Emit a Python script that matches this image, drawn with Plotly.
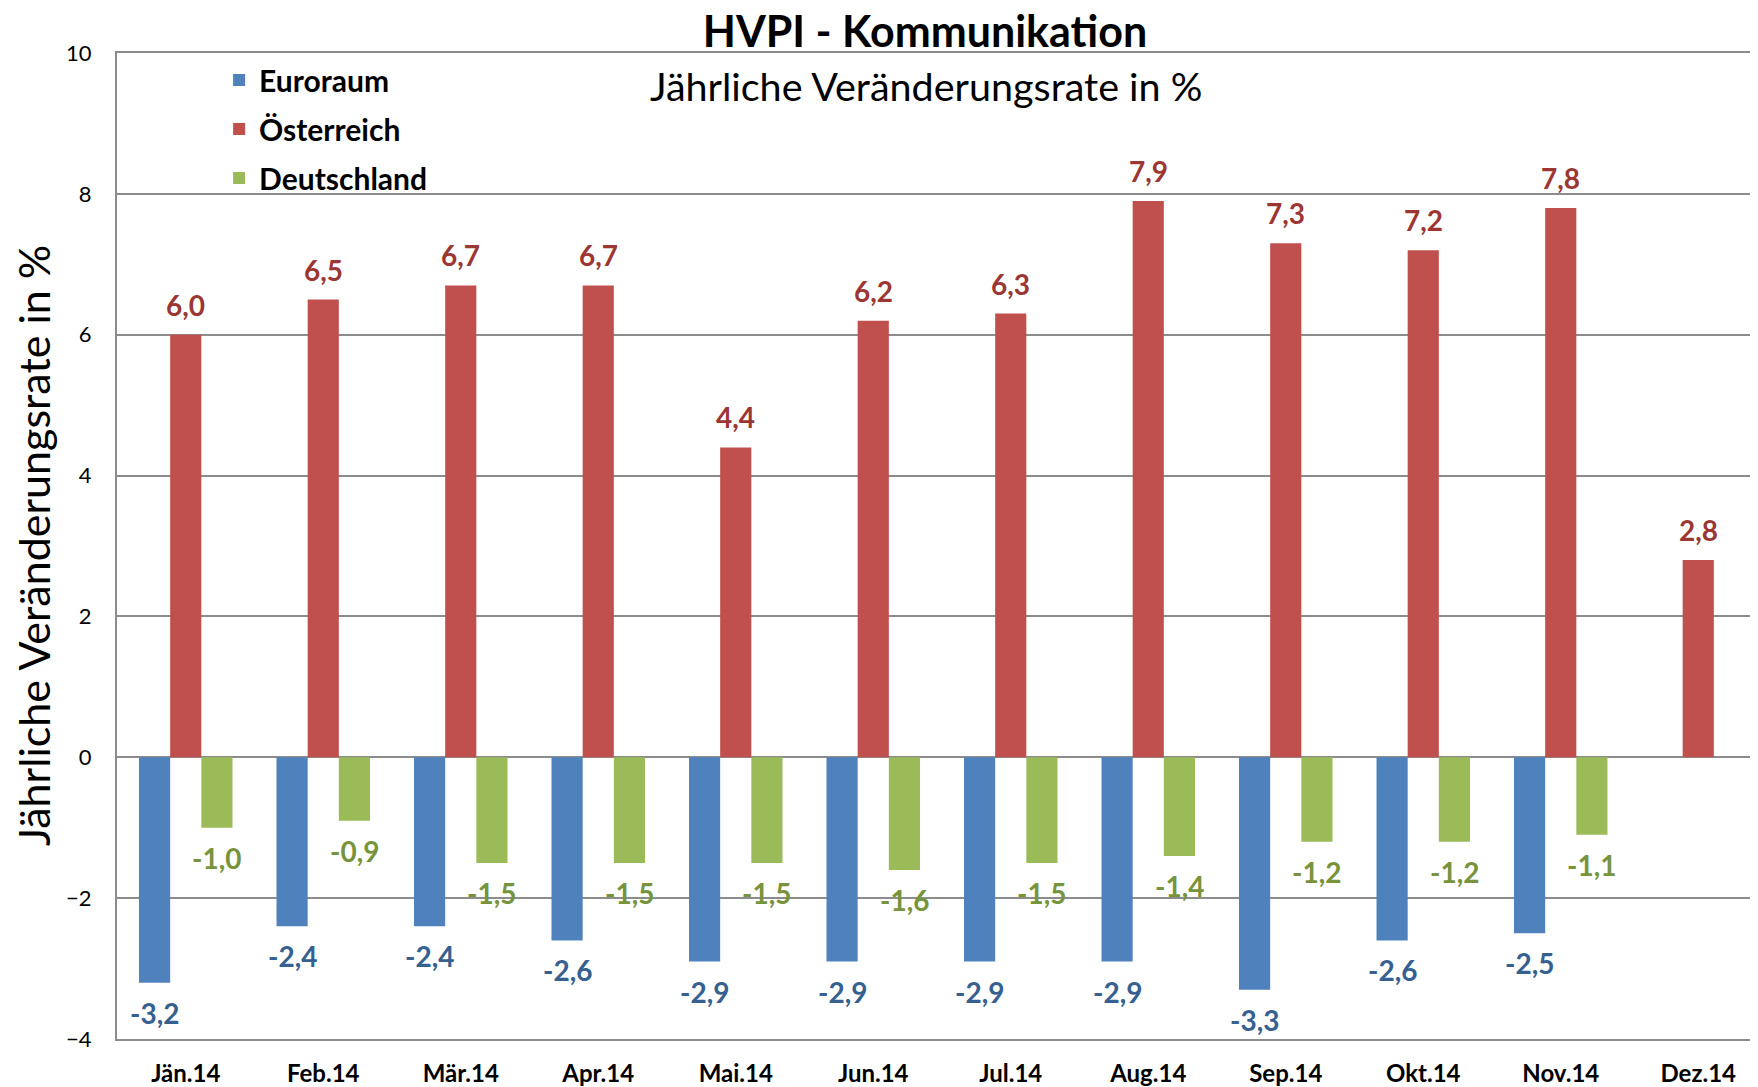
import plotly.graph_objects as go

MONTHS = ["Jän.14", "Feb.14", "Mär.14", "Apr.14", "Mai.14", "Jun.14",
          "Jul.14", "Aug.14", "Sep.14", "Okt.14", "Nov.14", "Dez.14"]
EURORAUM = [-3.2, -2.4, -2.4, -2.6, -2.9, -2.9, -2.9, -2.9, -3.3, -2.6, -2.5, None]
OESTERREICH = [6.0, 6.5, 6.7, 6.7, 4.4, 6.2, 6.3, 7.9, 7.3, 7.2, 7.8, 2.8]
DEUTSCHLAND = [-1.0, -0.9, -1.5, -1.5, -1.5, -1.6, -1.5, -1.4, -1.2, -1.2, -1.1, None]
Y_TICKS = [-4, -2, 0, 2, 4, 6, 8, 10]

FONT = "Lato"
GRID = "#8c8c8c"

series = [
    ("Euroraum", EURORAUM, "#4F81BD", "#35608F", -1),
    ("Österreich", OESTERREICH, "#C0504D", "#9B3633", 0),
    ("Deutschland", DEUTSCHLAND, "#9BBB59", "#77933C", 1),
]

BARGAP = 0.32
bar_w = (1 - BARGAP) / 3

# page body has an 8px margin, so the figure is 8px smaller than the window
W, H = 1750, 1079

fig = go.Figure()
annotations = []
for name, vals, col, lblcol, slot in series:
    fig.add_trace(go.Bar(
        x=MONTHS, y=vals, name=name, marker=dict(color=col, line=dict(width=0)),
        legendgroup=name,
    ))
    for j, v in enumerate(vals):
        if v is None:
            continue
        annotations.append(dict(
            x=j + slot * bar_w, y=v, xref="x", yref="y",
            text=f"{v:.1f}".replace(".", ","), showarrow=False,
            yshift=30 if v > 0 else -30,
            font=dict(family=FONT, size=28, color=lblcol, weight="bold"),
        ))

annotations.append(dict(
    x=0.4935, y=0.9666, xref="paper", yref="paper", yanchor="middle",
    text="Jährliche Veränderungsrate in %", showarrow=False,
    font=dict(family=FONT, size=39.5, color="black"),
))
annotations.append(dict(
    x=-0.0512, y=0.5, xref="paper", yref="paper", xanchor="center", yanchor="middle",
    text="Jährliche Veränderungsrate in %", showarrow=False, textangle=-90,
    font=dict(family=FONT, size=43, color="black"),
))

fig.update_layout(
    width=W, height=H,
    margin=dict(l=109, r=0, t=45, b=47),
    paper_bgcolor="white", plot_bgcolor="white",
    barmode="group", bargap=BARGAP, bargroupgap=0,
    title=dict(text="<b>HVPI - Kommunikation</b>", x=0.524, xanchor="center",
               y=1 - 24 / H, yanchor="middle", yref="container",
               font=dict(family=FONT, size=43, color="black")),
    legend=dict(x=0.0623, y=0.999, xanchor="left", yanchor="top",
                font=dict(family=FONT, size=30, color="black", weight="bold"),
                bgcolor="rgba(0,0,0,0)", tracegroupgap=7, itemwidth=30),
    annotations=annotations,
    font=dict(family=FONT),
)
fig.update_xaxes(
    range=[-0.5, 11.42], showgrid=False, showline=True, linecolor=GRID, linewidth=2,
    mirror=True, ticks="", ticklabelstandoff=12,
    tickfont=dict(family=FONT, size=24, color="black", weight="bold"),
)
fig.update_yaxes(
    range=[-4, 10], tickvals=Y_TICKS, showgrid=True, gridcolor=GRID, gridwidth=2,
    zeroline=True, zerolinecolor=GRID, zerolinewidth=2,
    showline=True, linecolor=GRID, linewidth=2, mirror=True, ticks="",
    ticklabelstandoff=19, tickfont=dict(family=FONT, size=22, color="black"),
)

fig.write_html("out.html")
